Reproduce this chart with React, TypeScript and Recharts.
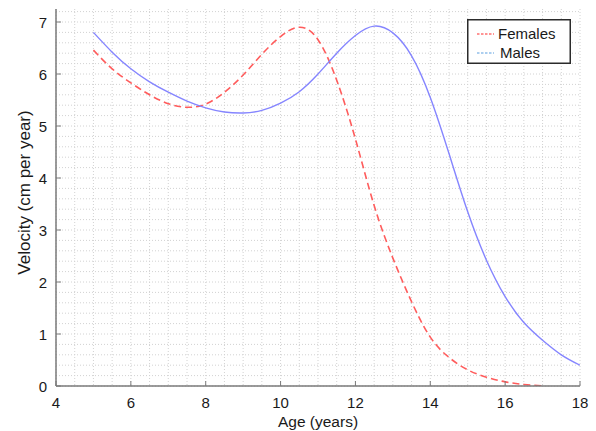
import React from 'react';
import { LineChart, Line, XAxis, YAxis, CartesianGrid, Label } from 'recharts';

const ages = [5, 5.5, 6, 6.5, 7, 7.5, 8, 8.5, 9, 9.5, 10, 10.5, 11, 11.5, 12, 12.5, 13, 13.5, 14, 14.5, 15, 15.5, 16, 16.5, 17, 17.5, 18];
const femaleVelocity = [6.46, 6.1, 5.83, 5.6, 5.43, 5.36, 5.42, 5.65, 5.98, 6.38, 6.72, 6.9, 6.66, 5.88, 4.75, 3.47, 2.46, 1.62, 0.94, 0.55, 0.31, 0.17, 0.08, 0.03, 0.0];
const maleVelocity = [6.8, 6.42, 6.1, 5.85, 5.65, 5.48, 5.35, 5.27, 5.25, 5.3, 5.44, 5.66, 6.0, 6.4, 6.74, 6.92, 6.79, 6.35, 5.55, 4.47, 3.35, 2.42, 1.72, 1.22, 0.88, 0.6, 0.4];
const seriesNames = ['Females', 'Males'];
const xTicks = [4, 6, 8, 10, 12, 14, 16, 18];
const yTicks = [0, 1, 2, 3, 4, 5, 6, 7];
const xMinorGrid = Array.from({ length: 29 }, (_, i) => 4 + i * 0.5);
const yMinorGrid = Array.from({ length: 37 }, (_, i) => Math.round(i * 0.2 * 10) / 10);

const data = ages.map((age, i) => ({
  age,
  females: i < femaleVelocity.length ? femaleVelocity[i] : null,
  males: maleVelocity[i],
}));

const FONT = '"Liberation Sans", Arial, Helvetica, sans-serif';
const FRAME = '#7a7a7a';
const TEXT = '#1a1a1a';
const RED = '#ff5c5c';
const BLUE = '#8585ff';

const LeftTick = (p: any) => (
  <g>
    <line x1={p.x} x2={p.x + 5} y1={p.y} y2={p.y} stroke={FRAME} strokeWidth={1} />
    <text x={p.x - 9} y={p.y} dy={5.5} textAnchor="end" fontSize={15} fontFamily={FONT} fill={TEXT}>
      {p.payload.value}
    </text>
  </g>
);
const RightTick = (p: any) => (
  <line x1={p.x} x2={p.x - 5} y1={p.y} y2={p.y} stroke={FRAME} strokeWidth={1} />
);
const BottomTick = (p: any) => (
  <g>
    <line x1={p.x} x2={p.x} y1={p.y} y2={p.y - 5} stroke={FRAME} strokeWidth={1} />
    <text x={p.x} y={p.y} dy={22} textAnchor="middle" fontSize={15} fontFamily={FONT} fill={TEXT}>
      {p.payload.value}
    </text>
  </g>
);
const TopTick = (p: any) => (
  <line x1={p.x} x2={p.x} y1={p.y} y2={p.y + 5} stroke={FRAME} strokeWidth={1} />
);

const XLabel = (p: any) => {
  const vb = p.viewBox;
  return (
    <text x={vb.x + vb.width / 2} y={vb.y + 41} textAnchor="middle" fontSize={15.5} fontFamily={FONT} fill={TEXT}>
      Age (years)
    </text>
  );
};
const YLabel = (p: any) => {
  const vb = p.viewBox;
  const cx = 24;
  const cy = vb.y + vb.height / 2 - 5;
  return (
    <text x={cx} y={cy} transform={`rotate(-90 ${cx} ${cy})`} dy={6} textAnchor="middle" fontSize={17} fontFamily={FONT} fill={TEXT}>
      Velocity (cm per year)
    </text>
  );
};

const LegendBox = () => (
  <div style={{ position: 'absolute', left: 467, top: 19, width: 104, height: 45, background: '#fff' }}>
    <svg width={104} height={45} style={{ display: 'block' }}>
      <rect x={0.75} y={0.75} width={102.5} height={43.5} fill="#fff" stroke="#2b2b2b" strokeWidth={1.5} />
      <line x1={10} x2={27} y1={15} y2={15} stroke="#ff2a2a" strokeWidth={1.2} strokeDasharray="2.5 1.5" />
      <text x={31} y={15} dy={5} fontSize={15} fontFamily={FONT} fill={TEXT}>{seriesNames[0]}</text>
      <line x1={10} x2={27} y1={34} y2={34} stroke="#5a9ee0" strokeWidth={1.2} strokeDasharray="2.5 1.5" />
      <text x={33} y={34} dy={5} fontSize={15} fontFamily={FONT} fill={TEXT}>{seriesNames[1]}</text>
    </svg>
  </div>
);

export default function App() {
  return (
    <div style={{ position: 'absolute', left: 0, top: 0, width: 596, height: 431, background: '#fff' }}>
      <LineChart width={596} height={431} data={data} margin={{ top: 9, right: 16, bottom: 0, left: 0 }}>
        <CartesianGrid
          stroke="#d2d2d2"
          strokeDasharray="1 2"
          verticalValues={xMinorGrid}
          horizontalValues={yMinorGrid}
          xAxisId="bottom"
          yAxisId="left"
        />
        <XAxis
          xAxisId="bottom"
          dataKey="age"
          type="number"
          domain={[4, 18]}
          ticks={xTicks}
          allowDataOverflow
          height={45}
          tickSize={0}
          tickMargin={0}
          tickLine={false}
          axisLine={{ stroke: FRAME, strokeWidth: 1.5 }}
          tick={<BottomTick />}
          interval={0}
        >
          <Label content={<XLabel />} />
        </XAxis>
        <XAxis
          xAxisId="top"
          orientation="top"
          dataKey="age"
          type="number"
          domain={[4, 18]}
          ticks={xTicks}
          allowDataOverflow
          height={0}
          tickSize={0}
          tickMargin={0}
          tickLine={false}
          axisLine={{ stroke: FRAME, strokeWidth: 1.5 }}
          tick={<TopTick />}
          interval={0}
        />
        <YAxis
          yAxisId="left"
          type="number"
          domain={[0, 7.25]}
          ticks={yTicks}
          allowDataOverflow
          width={56}
          tickSize={0}
          tickMargin={0}
          tickLine={false}
          axisLine={{ stroke: FRAME, strokeWidth: 1.5 }}
          tick={<LeftTick />}
          interval={0}
        >
          <Label content={<YLabel />} />
        </YAxis>
        <YAxis
          yAxisId="right"
          orientation="right"
          type="number"
          domain={[0, 7.25]}
          ticks={yTicks}
          allowDataOverflow
          width={0}
          tickSize={0}
          tickMargin={0}
          tickLine={false}
          axisLine={{ stroke: FRAME, strokeWidth: 1.5 }}
          tick={<RightTick />}
          interval={0}
        />
        <Line
          xAxisId="bottom"
          yAxisId="left"
          type="natural"
          dataKey="females"
          name={seriesNames[0]}
          stroke={RED}
          strokeWidth={1.6}
          strokeDasharray="7 4"
          dot={false}
          isAnimationActive={false}
        />
        <Line
          xAxisId="bottom"
          yAxisId="left"
          type="natural"
          dataKey="males"
          name={seriesNames[1]}
          stroke={BLUE}
          strokeWidth={1.4}
          dot={false}
          isAnimationActive={false}
        />
      </LineChart>
      <LegendBox />
    </div>
  );
}
